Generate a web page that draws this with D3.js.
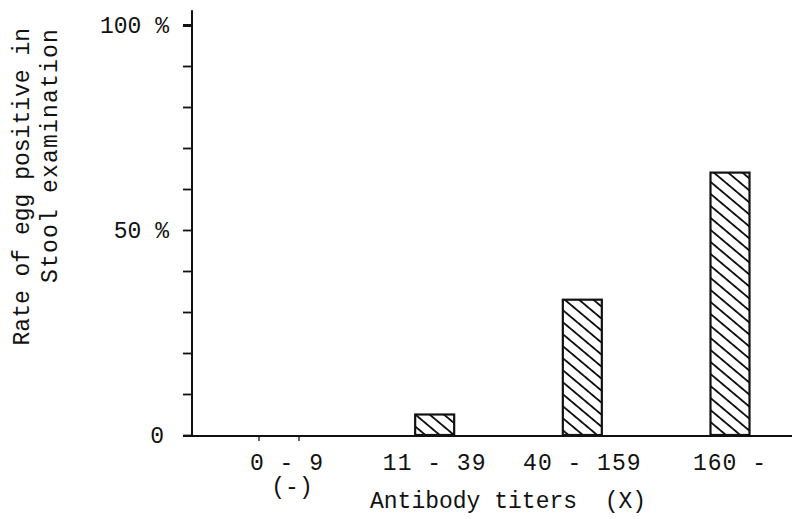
<!DOCTYPE html>
<html>
<head>
<meta charset="utf-8">
<script src="https://cdn.jsdelivr.net/npm/d3@7"></script>
<style>
  body { margin: 0; background: #fff; }
  text { font-family: "Liberation Mono", "DejaVu Sans Mono", monospace; fill: #111; }
</style>
</head>
<body>
<div class="chart"></div>
<script>
// Data
var categories = ["0 - 9", "11 - 39", "40 - 159", "160 -"];
var rates = [0, 5, 33, 64];
var yTicks = [0, 10, 20, 30, 40, 50, 60, 70, 80, 90, 100];
var yLabels = { 0: "0", 50: "50 %", 100: "100 %" };

var svgWidth = 792;
var svgHeight = 519;

var svg = d3.select(".chart")
  .append("svg")
  .attr("width", svgWidth)
  .attr("height", svgHeight);

// Hatch pattern for the bars
var defs = svg.append("defs");
defs.append("pattern")
  .attr("id", "hatch")
  .attr("patternUnits", "userSpaceOnUse")
  .attr("width", 9.2)
  .attr("height", 9.2)
  .attr("patternTransform", "rotate(40)")
  .append("line")
  .attr("x1", 0).attr("y1", 4.6)
  .attr("x2", 9.2).attr("y2", 4.6)
  .attr("stroke", "#111")
  .attr("stroke-width", 1.8);

// Scales
var xScale = d3.scalePoint()
  .domain(categories)
  .range([287, 730]);

var yScale = d3.scaleLinear()
  .domain([0, 100])
  .range([435, 25]);

var barWidth = 39;

// y axis (ticks every 10, labels only at 0, 50, 100)
var leftAxis = d3.axisLeft(yScale)
  .tickValues(yTicks)
  .tickSize(9)
  .tickPadding(14)
  .tickFormat(function(d) { return yLabels[d] || ""; });

var yAxis = svg.append("g")
  .attr("transform", "translate(192,0)")
  .call(leftAxis);
yAxis.select(".domain").remove();
yAxis.selectAll(".tick line")
  .attr("stroke", "#111")
  .attr("stroke-width", function(d) { return d === 100 ? 3 : 1.8; });
yAxis.selectAll(".tick text")
  .attr("font-size", 23)
  .attr("font-family", "Liberation Mono, monospace")
  .attr("fill", "#111")
  .attr("dx", function(d) { return d === 0 ? -5 : 0; });

// vertical axis line
svg.append("line")
  .attr("x1", 192).attr("x2", 192)
  .attr("y1", yScale(0) + 2).attr("y2", yScale(103.6))
  .attr("stroke", "#111")
  .attr("stroke-width", 2);

// bars (the 0 - 9 group is empty)
var bars = rates.map(function(d, i) { return { cat: categories[i], value: d }; })
  .filter(function(d) { return d.value > 0; });

svg.selectAll(".bar")
  .data(bars)
  .enter().append("rect")
  .attr("class", "bar")
  .attr("x", function(d) { return xScale(d.cat) - barWidth / 2; })
  .attr("y", function(d) { return yScale(d.value); })
  .attr("width", barWidth)
  .attr("height", function(d) { return yScale(0) - yScale(d.value); })
  .attr("fill", "url(#hatch)")
  .attr("stroke", "#111")
  .attr("stroke-width", 2.2);

// small marks under the empty 0 - 9 group
svg.selectAll(".zero-mark")
  .data([-1, 1])
  .enter().append("line")
  .attr("x1", function(d) { return xScale(categories[0]) - 8 + d * 20; })
  .attr("x2", function(d) { return xScale(categories[0]) - 8 + d * 20; })
  .attr("y1", yScale(0))
  .attr("y2", yScale(0) + 6)
  .attr("stroke", "#333")
  .attr("stroke-width", 1.5);

// x axis baseline
svg.append("line")
  .attr("x1", 183).attr("x2", svgWidth)
  .attr("y1", yScale(0) + 1).attr("y2", yScale(0) + 1)
  .attr("stroke", "#111")
  .attr("stroke-width", 2.2);

// category labels
svg.selectAll(".cat-label")
  .data(categories)
  .enter().append("text")
  .attr("class", "cat-label")
  .attr("x", function(d) { return xScale(d); })
  .attr("y", 470)
  .attr("text-anchor", "middle")
  .attr("font-size", 23)
  .attr("letter-spacing", 1)
  .text(function(d) { return d; });

svg.append("text")
  .attr("x", xScale(categories[0]) + 5)
  .attr("y", 494)
  .attr("text-anchor", "middle")
  .attr("font-size", 23)
  .text("(-)");

// x axis title
svg.append("text")
  .attr("x", 370)
  .attr("y", 508)
  .attr("font-size", 23)
  .attr("xml:space", "preserve")
  .text("Antibody titers  (X)");

// y axis title (two lines, rotated)
var yTitle = svg.append("text")
  .attr("transform", "rotate(-90)")
  .attr("text-anchor", "end")
  .attr("font-size", 23);
yTitle.append("tspan")
  .attr("x", -28).attr("y", 29)
  .text("Rate of egg positive in");
yTitle.append("tspan")
  .attr("x", -28).attr("y", 57)
  .attr("letter-spacing", 1.2)
  .text("Stool examination");
</script>
</body>
</html>
